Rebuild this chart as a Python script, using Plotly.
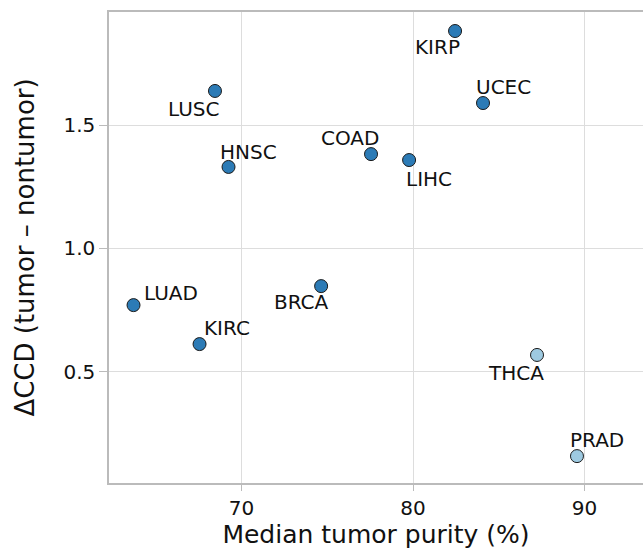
import plotly.graph_objects as go

cancers = ["KIRP", "LUSC", "UCEC", "COAD", "LIHC", "HNSC", "LUAD", "BRCA", "KIRC", "THCA", "PRAD"]
purity = [82.45, 68.45, 84.08, 77.55, 79.77, 69.24, 63.70, 74.64, 67.55, 87.23, 89.56]
delta_ccd = [1.881, 1.638, 1.589, 1.382, 1.358, 1.330, 0.770, 0.847, 0.612, 0.568, 0.158]
group = ["dark", "dark", "dark", "dark", "dark", "dark", "dark", "dark", "dark", "light", "light"]

# label offsets (px) relative to the point
label_dx = [-18, -21, 20, -21, 20, 20, 37, -20, 27, -21, 20]
label_dy = [-16, -18, 16, 16, -19, 15, 12, -16, 16, -18, 16]

colors = {"dark": "#2c7bb6", "light": "#9ecae1"}
FONT = "DejaVu Sans, Liberation Sans, Arial, sans-serif"

fig = go.Figure()
fig.add_trace(go.Scatter(
    x=purity, y=delta_ccd, mode="markers",
    marker=dict(size=13, color=[colors[g] for g in group],
                line=dict(color="#1a1a1a", width=1)),
    hoverinfo="text", text=cancers, showlegend=False,
))

for name, xv, yv, dx, dy in zip(cancers, purity, delta_ccd, label_dx, label_dy):
    fig.add_annotation(x=xv, y=yv, text=name, showarrow=False,
                       xshift=dx, yshift=dy,
                       font=dict(family=FONT, size=20, color="#111111"))

fig.update_layout(
    width=643, height=550,
    margin=dict(l=109, r=0, t=12, b=67),
    paper_bgcolor="white", plot_bgcolor="white",
    font=dict(family=FONT, color="#111111"),
    xaxis=dict(
        range=[62.27, 93.41],
        tickvals=[70, 80, 90],
        showgrid=True, gridcolor="#dddddd", gridwidth=1,
        showline=True, linecolor="#bbbbbb", linewidth=1.5, mirror=True,
        ticks="outside", ticklen=6, tickcolor="#bbbbbb",
        tickfont=dict(size=20, family=FONT, color="#111111"),
        title=dict(text="Median tumor purity (%)", standoff=6,
                   font=dict(size=25, family=FONT, color="#111111")),
        zeroline=False, automargin=False,
    ),
    yaxis=dict(
        range=[0.049, 1.958],
        tickvals=[0.5, 1.0, 1.5], tickformat=".1f",
        showgrid=True, gridcolor="#dddddd", gridwidth=1,
        showline=True, linecolor="#bbbbbb", linewidth=1.5, mirror=False,
        ticks="outside", ticklen=8, tickcolor="#bbbbbb",
        tickfont=dict(size=20, family=FONT, color="#111111"),
        title=dict(text="ΔCCD (tumor – nontumor)", standoff=21,
                   font=dict(size=26, family=FONT, color="#111111")),
        zeroline=False, automargin=False,
    ),
)

fig.write_html(
    "out.html",
    config={"displayModeBar": False},
    post_script="document.body.style.margin='0';document.body.style.overflow='hidden';",
)
